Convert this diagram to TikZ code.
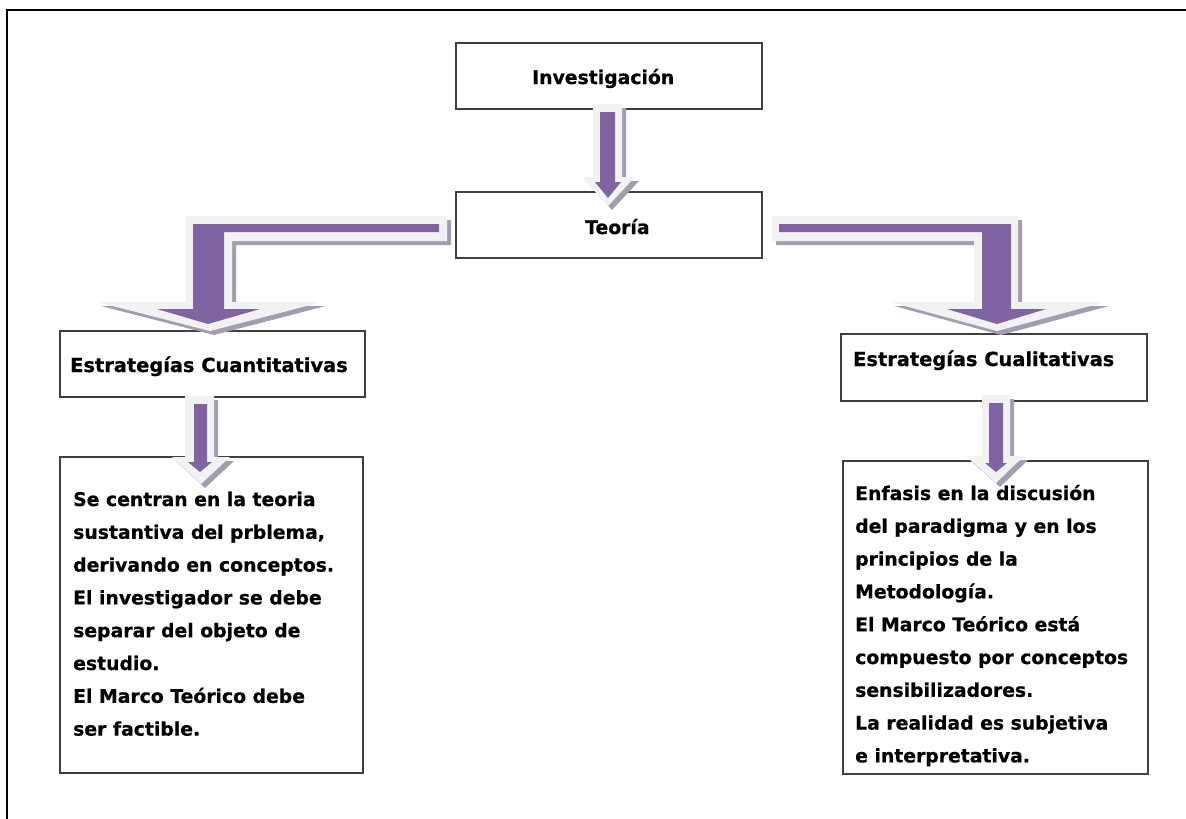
\documentclass[tikz,border=0pt]{standalone}
\usepackage{fontspec}
\setmainfont{DejaVu Sans}[BoldFeatures={FakeBold=0.6}]
\definecolor{arrpurple}{RGB}{128,100,162}
\definecolor{arrlight}{RGB}{242,242,242}
\definecolor{arrshadow}{RGB}{163,157,176}
\definecolor{boxline}{RGB}{64,64,64}
\begin{document}
\begin{tikzpicture}[x=1pt,y=-1pt,
  box/.style={draw=boxline, line width=1.3pt, fill=white, rectangle, inner sep=0pt},
  lbl/.style={anchor=base west, inner sep=0pt, font=\fontsize{18.8}{32.8}\selectfont\bfseries},
  hlbl/.style={lbl, font=\fontsize{19.4}{32.8}\selectfont\bfseries},
  lightpart/.style={fill=arrlight},
  purplepart/.style={fill=arrpurple},
  shadowpart/.style={fill=arrshadow, shift={(4,4)}}]
\useasboundingbox (0,0) rectangle (1186,819);
\fill[white] (0,0) rectangle (1186,819);
\draw[line width=2pt] (7,819) -- (7,10) -- (1186,10);

% boxes
\node[box, minimum width=306pt, minimum height=66pt] (inv) at (609,76) {};
\node[box, minimum width=306pt, minimum height=66pt] (teo) at (609,225) {};
\node[box, minimum width=305pt, minimum height=66pt] (cuan) at (212.5,364) {};
\node[box, minimum width=306pt, minimum height=67pt] (cual) at (994,367.5) {};
\node[box, minimum width=303pt, minimum height=316pt] (lbody) at (211.5,615) {};
\node[box, minimum width=305pt, minimum height=313pt] (rbody) at (995.5,617.5) {};

% labels
\node[lbl] (invt) at (532,84) {Investigación};
\node[lbl] (teot) at (585,234) {Teoría};
\node[hlbl] (cuant) at (70,372) {Estrategías Cuantitativas};
\node[hlbl] (cualt) at (853,366) {Estrategías Cualitativas};
\node[lbl] (lbodyt) at (73,506) {\parbox[t]{300pt}{\raggedright
Se centran en la teoria\\
sustantiva del prblema,\\
derivando en conceptos.\\
El investigador se debe\\
separar del objeto de\\
estudio.\\
El Marco Teórico debe\\
ser factible.}};
\node[lbl] (rbodyt) at (855,500) {\parbox[t]{300pt}{\raggedright
Enfasis en la discusión\\
del paradigma y en los\\
principios de la\\
Metodología.\\
El Marco Teórico está\\
compuesto por conceptos\\
sensibilizadores.\\
La realidad es subjetiva\\
e interpretativa.}};

% arrow Investigacion -> Teoria
\def\toplight{(593,104) -- (622,104) -- (622,177) -- (635,177) -- (608,206) -- (582,177) -- (593,177) -- cycle}
\fill[shadowpart] \toplight;
\fill[lightpart] \toplight;
\fill[purplepart] (600,112) -- (615,112) -- (615,182) -- (621,182) -- (608,198) -- (595,182) -- (600,182) -- cycle;

% elbow arrow Teoria -> Cuantitativas
\def\leftlight{(447,216) -- (186,216) -- (186,302) -- (97,302) -- (210,331) -- (322,302) -- (232,302) -- (232,241) -- (447,241) -- cycle}
\fill[shadowpart] \leftlight;
\fill[lightpart] \leftlight;
\fill[purplepart] (439,224) -- (193,224) -- (193,309) -- (157,309) -- (208,324) -- (260,309) -- (224,309) -- (224,232) -- (439,232) -- cycle;

% elbow arrow Teoria -> Cualitativas
\def\rightlight{(772,216) -- (1018,216) -- (1018,302) -- (1105,302) -- (997,331) -- (890,302) -- (974,302) -- (974,241) -- (772,241) -- cycle}
\fill[shadowpart] \rightlight;
\fill[lightpart] \rightlight;
\fill[purplepart] (779,224) -- (1011,224) -- (1011,309) -- (1046,309) -- (997,324) -- (947,309) -- (982,309) -- (982,232) -- (779,232) -- cycle;

% arrow Cuantitativas -> body
\def\lsmall{(185,396) -- (214,396) -- (214,457) -- (230,457) -- (201,484) -- (172,457) -- (185,457) -- cycle}
\fill[shadowpart] \lsmall;
\fill[lightpart] \lsmall;
\fill[purplepart] (194,404) -- (207,404) -- (207,462) -- (212,462) -- (200,472) -- (188,462) -- (194,462) -- cycle;

% arrow Cualitativas -> body
\def\rsmall{(982,395) -- (1010,395) -- (1010,456) -- (1024,456) -- (996,483) -- (966,456) -- (982,456) -- cycle}
\fill[shadowpart] \rsmall;
\fill[lightpart] \rsmall;
\fill[purplepart] (989,403) -- (1003,403) -- (1003,463) -- (1007,463) -- (996,472) -- (985,463) -- (989,463) -- cycle;
\end{tikzpicture}
\end{document}
